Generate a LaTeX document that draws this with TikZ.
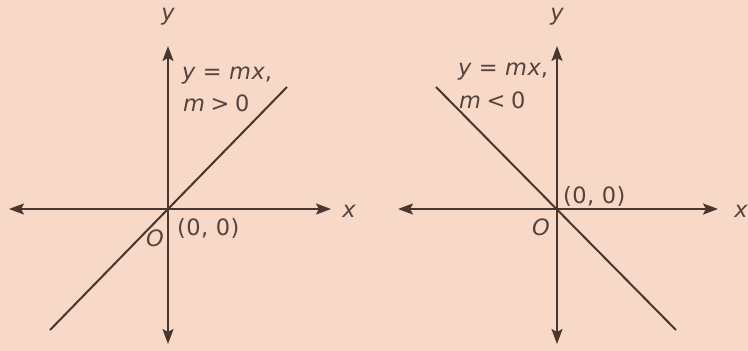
\documentclass[tikz,border=0pt]{standalone}
\usepackage{fontspec}
\setmainfont{DejaVu Sans}[LetterSpace=2]
\usetikzlibrary{arrows.meta}
\definecolor{bg}{RGB}{248,216,198}
\definecolor{ink}{RGB}{72,54,48}
\definecolor{txt}{RGB}{84,68,62}
\begin{document}
\begin{tikzpicture}[x=1pt,y=-1pt,
  axis/.style={draw=ink, line width=2.1pt, {Stealth[length=15pt,width=11pt,inset=3pt]}-{Stealth[length=15pt,width=11pt,inset=3pt]}},
  graph/.style={draw=ink, line width=2pt},
  lbl/.style={text=txt, font=\fontsize{22.5}{26}\selectfont, inner sep=0pt}]
\fill[bg] (0,0) rectangle (748,351);
\useasboundingbox (0,0) rectangle (748,351);
% left panel
\coordinate (O1) at (168,209);
\coordinate (L1) at (9,209);
\coordinate (R1) at (331,209);
\coordinate (T1) at (168,46);
\coordinate (B1) at (168,344);
\coordinate (P1) at (50,330);
\coordinate (Q1) at (287,87);
\draw[axis] (L1) -- (R1);
\draw[axis] (T1) -- (B1);
\draw[graph] (P1) -- (Q1);
\node[lbl] (x1) at (349,211) {\itshape x};
\node[lbl] (y1) at (168,17) {\itshape y};
\node[lbl, anchor=west] (e1) at (182,76) {\itshape y\hspace{0.33em}\upshape=\hspace{0.33em}\itshape mx\upshape,};
\node[lbl, anchor=west] (m1) at (183,103) {\itshape m\hspace{0.25em}\upshape>\hspace{0.25em}0};
\node[lbl, anchor=west] (c1) at (177,228) {(0, 0)};
\node[lbl] (o1) at (155,238) {\itshape O};
% right panel
\coordinate (O2) at (557,209);
\coordinate (L2) at (398,209);
\coordinate (R2) at (718,209);
\coordinate (T2) at (557,46);
\coordinate (B2) at (557,344);
\coordinate (P2) at (436,87);
\coordinate (Q2) at (676,330);
\draw[axis] (L2) -- (R2);
\draw[axis] (T2) -- (B2);
\draw[graph] (P2) -- (Q2);
\node[lbl] (x2) at (741,211) {\itshape x};
\node[lbl] (y2) at (557,17) {\itshape y};
\node[lbl, anchor=west] (e2) at (458,72) {\itshape y\hspace{0.33em}\upshape=\hspace{0.33em}\itshape mx\upshape,};
\node[lbl, anchor=west] (m2) at (459,100) {\itshape m\hspace{0.25em}\upshape<\hspace{0.25em}0};
\node[lbl, anchor=west] (c2) at (563,196) {(0, 0)};
\node[lbl] (o2) at (541,227) {\itshape O};
\end{tikzpicture}
\end{document}
